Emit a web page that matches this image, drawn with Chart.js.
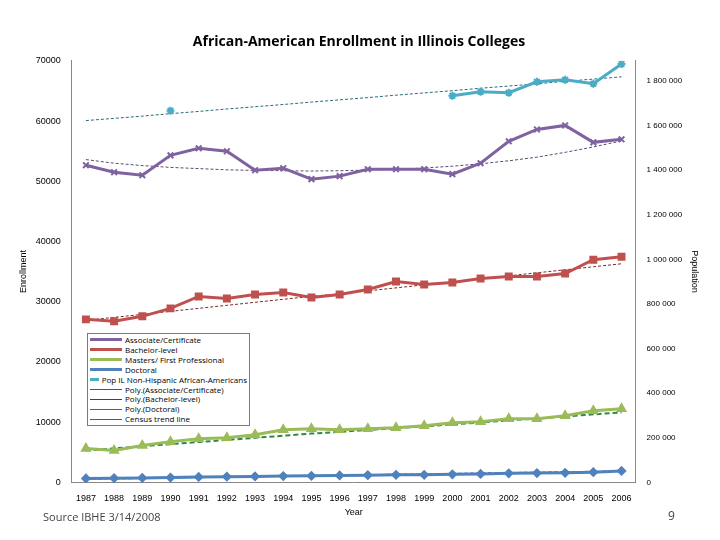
<!DOCTYPE html>
<html><head><meta charset="utf-8">
<script src="https://cdn.jsdelivr.net/npm/chart.js@4"></script>
<style>
body{margin:0;background:#fff;font-family:"Open Sans",sans-serif}
#wrap{position:relative;width:720px;height:540px}
#legend{position:absolute;left:87px;top:333px;width:163px;border:1px solid #4F81BD;background:#fff;font-size:8px;line-height:9.9px;padding:1px 2px;box-sizing:border-box}
#legend div{display:flex;align-items:center;white-space:nowrap}
#legend span.l{display:inline-block;width:32px;height:0;margin-right:3px}
#src{position:absolute;left:43px;top:509px;font-size:11px;color:#444}
#pg{position:absolute;left:668px;top:507px;font-size:12px;color:#444}
</style></head><body>
<div id="wrap"><canvas id="c" width="720" height="540"></canvas>
<div id="legend"></div>
<div id="src">Source IBHE 3/14/2008</div><div id="pg">9</div></div>
<script>
const years=['1987','1988','1989','1990','1991','1992','1993','1994','1995','1996','1997','1998','1999','2000','2001','2002','2003','2004','2005','2006'];
const associate=[52660,51500,51000,54300,55470,54980,51840,52170,50350,50850,52000,52000,52000,51180,53000,56630,58600,59270,56460,56960];
const bachelor=[27070,26750,27570,28890,30870,30540,31200,31530,30710,31200,32020,33350,32850,33180,33840,34170,34170,34670,36980,37480];
const masters=[5610,5280,6110,6770,7260,7430,7920,8750,8920,8750,8920,9080,9410,9900,10070,10570,10570,11060,11890,12220];
const doctoral=[650,700,750,800,900,950,1000,1050,1100,1150,1200,1250,1250,1350,1400,1500,1550,1600,1700,1900];
const population=[null,null,null,1666000,null,null,null,null,null,null,null,null,null,1733000,1751000,1747000,1796000,1805000,1787000,1876000];
const polyAssociate=[53600,53000,52600,52300,52100,51900,51800,51750,51700,51750,51850,52000,52200,52500,52900,53400,54000,54800,55700,56700];
const polyBachelor=[26900,27400,27900,28400,28900,29400,29900,30400,30900,31300,31800,32300,32800,33300,33800,34300,34800,35300,35800,36300];
const polyMasters=[5300,5650,6000,6350,6700,7050,7400,7750,8100,8400,8700,9000,9300,9650,9950,10300,10600,10950,11300,11600];
const polyDoctoral=[550,620,690,760,830,900,970,1040,1110,1180,1250,1320,1390,1460,1530,1600,1670,1740,1810,1880];
const censusTrend=[1622000,1632000,1642000,1653000,1663000,1674000,1684000,1694000,1705000,1715000,1725000,1736000,1746000,1756000,1767000,1777000,1787000,1798000,1808000,1818000];
const popTicks=[0,200000,400000,600000,800000,1000000,1200000,1400000,1600000,1800000];

const ds=[
 {label:'Associate/Certificate',data:associate,borderColor:'#7F62A0',backgroundColor:'#7F62A0',borderWidth:3,pointStyle:'crossRot',pointRadius:4,pointBorderWidth:2,yAxisID:'y'},
 {label:'Bachelor-level',data:bachelor,borderColor:'#C0504D',backgroundColor:'#C0504D',borderWidth:3,pointStyle:'rect',pointRadius:3.5,yAxisID:'y'},
 {label:'Masters/ First Professional',data:masters,borderColor:'#9BBB59',backgroundColor:'#9BBB59',borderWidth:3,pointStyle:'triangle',pointRadius:3.5,yAxisID:'y'},
 {label:'Doctoral',data:doctoral,borderColor:'#4F81BD',backgroundColor:'#4F81BD',borderWidth:3,pointStyle:'rectRot',pointRadius:3,yAxisID:'y'},
 {label:'Pop IL Non-Hispanic African-Americans',data:population,borderColor:'#4BACC6',backgroundColor:'#4BACC6',borderWidth:3,pointStyle:'star',pointRadius:4,pointBorderWidth:2,spanGaps:false,yAxisID:'y1'},
 {label:'Poly.(Associate/Certificate)',data:polyAssociate,borderColor:'#5a4a70',borderWidth:1,borderDash:[3,2],pointRadius:0,yAxisID:'y'},
 {label:'Poly.(Bachelor-level)',data:polyBachelor,borderColor:'#7a2a28',borderWidth:1,borderDash:[3,2],pointRadius:0,yAxisID:'y'},
 {label:'Poly.(Doctoral)',data:polyDoctoral,borderColor:'#2f6f9a',borderWidth:1.5,borderDash:[4,2],pointRadius:0,yAxisID:'y'},
 {label:'Census trend line',data:censusTrend,borderColor:'#2a6a7a',borderWidth:1,borderDash:[3,2],pointRadius:0,yAxisID:'y1'},
 {label:'masters-trend',data:polyMasters,borderColor:'#2E8B3E',borderWidth:2,borderDash:[5,3],pointRadius:0,yAxisID:'y'}
];
const legendItems=[['Associate/Certificate','#7F62A0',3],['Bachelor-level','#C0504D',3],['Masters/ First Professional','#9BBB59',3],['Doctoral','#4F81BD',3],['Pop IL Non-Hispanic African-Americans','#4BACC6',3],['Poly.(Associate/Certificate)','#5a4a70',1],['Poly.(Bachelor-level)','#7a2a28',1],['Poly.(Doctoral)','#2f6f9a',1],['Census trend line','#2a6a7a',1]];
document.getElementById('legend').innerHTML=legendItems.map(i=>`<div><span class="l" style="border-top:${i[2]}px solid ${i[1]}"></span>${i[0]}</div>`).join('');
const fmt=v=>String(v).replace(/\B(?=(\d{3})+(?!\d))/g,' ');
new Chart(document.getElementById('c'),{type:'line',data:{labels:years,datasets:ds},
options:{responsive:false,animation:false,
 layout:{padding:{left:14,right:16,top:34,bottom:22}},
 plugins:{legend:{display:false},tooltip:{enabled:false},
  title:{display:true,text:'African-American Enrollment in Illinois Colleges',color:'#000',font:{family:'Open Sans',size:14,weight:'bold'},padding:{top:0,bottom:10}}},
 scales:{
  x:{offset:true,grid:{display:false},border:{color:'#888'},ticks:{color:'#000',font:{size:9},maxRotation:0,autoSkip:false},
     title:{display:true,text:'Year',color:'#000',font:{size:9},padding:0}},
  y:{min:0,max:70000,ticks:{stepSize:10000,color:'#000',font:{size:9},callback:v=>String(v)},grid:{display:false},border:{color:'#888'},
     title:{display:true,text:'Enrollment',color:'#000',font:{size:9}}},
  y1:{position:'right',min:0,max:1890000,afterBuildTicks:a=>{a.ticks=popTicks.map(v=>({value:v}));},ticks:{color:'#000',font:{size:8},callback:v=>fmt(v)},grid:{display:false},border:{color:'#888'},
     title:{display:true,text:'Population',color:'#000',font:{size:9}}}
 }}});
</script></body></html>
